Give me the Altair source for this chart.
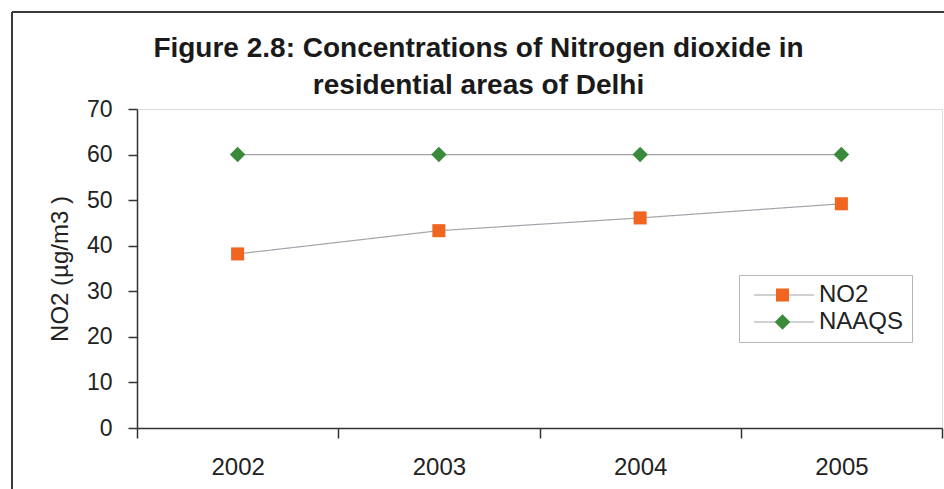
import altair as alt
import pandas as pd

# Annual mean NO2 in residential areas of Delhi vs. the NAAQS limit
years = ["2002", "2003", "2004", "2005"]
no2 = [38.2, 43.3, 46.1, 49.2]
naaqs = [60, 60, 60, 60]
series_names = ["NO2", "NAAQS"]
line_keys = ["NO2 line", "NAAQS line"]
series_colors = ["#f0651f", "#3a8a3c"]
series_shapes = ["square", "diamond"]
series_sizes = [170, 240]

df = pd.DataFrame(
    {
        "year": years * 2,
        "value": no2 + naaqs,
        "series": [series_names[0]] * len(years) + [series_names[1]] * len(years),
        "line_key": [line_keys[0]] * len(years) + [line_keys[1]] * len(years),
    }
)

FONT = "Liberation Sans"
W, H = 805, 319
LINE_GREY = "#a3a3ab"

x_enc = alt.X(
    "year:N",
    title=None,
    scale=alt.Scale(paddingInner=0, paddingOuter=0),
    axis=alt.Axis(
        labelAngle=0,
        tickBand="extent",
        tickSize=10,
        labelPadding=17,
        labelFontSize=24,
        labelFont=FONT,
        labelColor="#222222",
        domainColor="#333333",
        domainWidth=1.5,
        tickColor="#333333",
        tickWidth=1.5,
        grid=False,
    ),
)
y_enc = alt.Y(
    "value:Q",
    title="NO2 (µg/m3 )",
    scale=alt.Scale(domain=[0, 70], nice=False),
    axis=alt.Axis(
        values=[0, 10, 20, 30, 40, 50, 60, 70],
        tickSize=9,
        labelPadding=16,
        labelFontSize=23,
        labelFont=FONT,
        labelColor="#222222",
        titleFont=FONT,
        titleFontSize=24,
        titleFontWeight="normal",
        titleColor="#222222",
        titlePadding=14,
        domainColor="#333333",
        domainWidth=1.5,
        tickColor="#333333",
        tickWidth=1.5,
        grid=False,
    ),
)

# Connecting lines; their legend supplies the grey stroke behind each key symbol
lines = (
    alt.Chart(df)
    .mark_line(color=LINE_GREY, strokeWidth=1.2)
    .encode(
        x=x_enc,
        y=y_enc,
        strokeDash=alt.StrokeDash(
            "line_key:N",
            title=None,
            scale=alt.Scale(domain=line_keys, range=[[1, 0], [1, 0]]),
            legend=alt.Legend(
                orient="none",
                legendX=627,
                legendY=166,
                symbolType="M-3.15,0H3.15",
                symbolSize=361,
                symbolStrokeColor=LINE_GREY,
                symbolStrokeWidth=1.2,
                labelExpr="''",
                labelFontSize=24,
                rowPadding=3,
                padding=8,
            ),
        ),
    )
)

points = (
    alt.Chart(df)
    .mark_point(filled=True, opacity=1)
    .encode(
        x=x_enc,
        y=y_enc,
        color=alt.Color(
            "series:N",
            title=None,
            scale=alt.Scale(domain=series_names, range=series_colors),
        ),
        size=alt.Size(
            "series:N",
            title=None,
            scale=alt.Scale(domain=series_names, range=series_sizes),
        ),
        shape=alt.Shape(
            "series:N",
            title=None,
            scale=alt.Scale(domain=series_names, range=series_shapes),
            legend=alt.Legend(
                orient="none",
                legendX=602,
                legendY=166,
                symbolOffset=23.5,
                labelOffset=24.5,
                labelFont=FONT,
                labelFontSize=24,
                labelColor="#222222",
                rowPadding=3,
                padding=8,
                strokeColor="#b5b5b5",
            ),
        ),
    )
)

# Outer frame around the whole figure
frame_top = alt.Chart(df).mark_rule(color="#3a3a3a", strokeWidth=2).encode(
    x=alt.value(-125), x2=alt.value(810), y=alt.value(-97)
)
frame_left = alt.Chart(df).mark_rule(color="#3a3a3a", strokeWidth=2).encode(
    x=alt.value(-125), y=alt.value(-97), y2=alt.value(390)
)

chart = (
    alt.layer(frame_top, frame_left, lines, points)
    .properties(
        width=W,
        height=H,
        padding={"left": 137, "top": 109, "right": 2, "bottom": 61},
        autosize=alt.AutoSizeParams(type="none"),
        title=alt.TitleParams(
            text=[
                "Figure 2.8: Concentrations of Nitrogen dioxide in",
                "residential areas of Delhi",
            ],
            font=FONT,
            fontSize=28,
            fontWeight="bold",
            color="#1a1a1a",
            anchor="middle",
            dx=-61,
            lineHeight=37,
            offset=-89,
        ),
    )
    .configure_view(stroke=None)
    .configure(background="white")
)

chart.save("out.html", embed_options={"renderer": "svg", "actions": False})
